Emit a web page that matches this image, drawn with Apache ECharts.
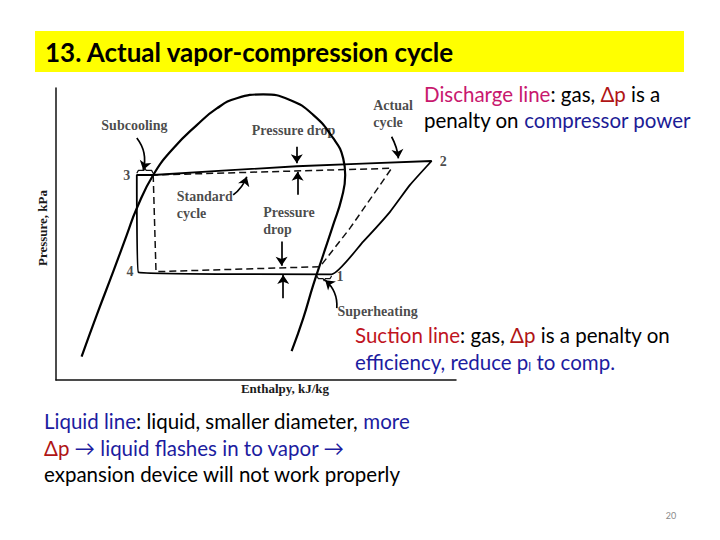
<!DOCTYPE html>
<html>
<head>
<meta charset="utf-8">
<script src="https://cdn.jsdelivr.net/npm/echarts@6/dist/echarts.min.js"></script>
<style>
    html, body { margin: 0; padding: 0; background: #ffffff; }
    #chart_main { width: 720px; height: 540px; }
</style>
</head>
<body>
<div id="chart_main"></div>
<script>
// enthalpy (x) / pressure (y), arbitrary units
var domeCurve = [
    [6.4, 8.0], [10.2, 22.3], [14.3, 37.1], [17.7, 49.7], [20.2, 58.8], [24.3, 70.2],
    [29.3, 79.3], [35.2, 87.3], [40.2, 93.0], [45.2, 96.5], [51.8, 97.8], [58.5, 95.9],
    [64.3, 90.8], [69.3, 82.8], [71.8, 75.9], [72.3, 70.2], [71.4, 62.2], [69.3, 53.1],
    [66.8, 42.8], [64.3, 32.5], [61.8, 21.1], [58.9, 9.9]
];
var actualCycle = [
    [24.3, 70.2], [20.2, 70.2], [20.6, 36.9], [68.9, 36.2], [76.8, 47.4], [83.5, 57.6],
    [88.5, 66.8], [93.9, 75.0], [60.2, 73.2], [24.3, 70.2]
];
var standardCycle = [
    [24.3, 70.2], [25.0, 37.1], [66.0, 38.8], [73.5, 52.0], [79.3, 63.4], [83.9, 72.5], [24.3, 70.2]
];
var subcoolBrace = [[20.2, 70.8], [20.6, 71.8], [22.0, 71.8], [22.25, 72.6], [22.5, 71.8], [23.9, 71.8], [24.3, 70.8]];
var superheatBrace = [[65.2, 35.6], [65.6, 34.7], [66.8, 34.7], [67.05, 33.9], [67.3, 34.7], [68.5, 34.7], [68.9, 35.6]];

// arrows: from -> to, curveness
var arrowFrom = [[20.2, 82.9], [83.9, 83.3], [60.2, 79.9], [60.4, 63.4], [44.3, 63.4], [56.4, 47.4], [56.8, 28.0], [70.2, 24.6]];
var arrowTo = [[21.8, 71.9], [85.6, 75.9], [60.2, 74.2], [60.4, 71.3], [47.7, 69.6], [56.4, 39.1], [56.8, 36.0], [67.3, 34.2]];
var arrowBend = [0.25, 0.1, 0, 0, -0.15, 0, 0, -0.25];

// labels
var centerLabels = ['Subcooling', '3', '4', '1', '2', 'Pressure drop', 'Superheating'];
var centerLabelPos = [[19.6, 87.3], [17.7, 70.2], [18.5, 37.0], [71.0, 35.4], [96.8, 75.0], [59.4, 85.3], [80.4, 23.6]];
var leftLabels = ['Actual\ncycle', 'Standard\ncycle', 'Pressure\ndrop'];
var leftLabelPos = [[79.3, 91.1], [30.2, 59.9], [51.8, 54.3]];

var xName = 'Enthalpy, kJ/kg';
var yName = 'Pressure, kPa';

var slideTitle = '13. Actual vapor-compression cycle';
var pageNo = '20';

var chart_main = echarts.init(document.getElementById('chart_main'), null, { renderer: 'svg' });

var serifFont = '"Liberation Serif", "DejaVu Serif", serif';
var slideFont = 'Lato, "Open Sans", sans-serif';

function buildArrows() {
    var list = [];
    for (var i = 0; i < arrowFrom.length; i++) {
        list.push({
            coords: [arrowFrom[i], arrowTo[i]],
            lineStyle: { curveness: arrowBend[i] }
        });
    }
    return list;
}

function buildLabels(names, pos) {
    var list = [];
    for (var i = 0; i < names.length; i++) {
        list.push({ name: names[i], value: pos[i] });
    }
    return list;
}

var diagramText = {
    color: '#1a1a1a',
    fontFamily: serifFont,
    fontSize: 14,
    fontWeight: 'bold',
    lineHeight: 17
};

// rich text piece for the slide notes
function rich(color, size, lh) {
    return { fill: color, fontFamily: slideFont, fontSize: size || 20.5, lineHeight: lh };
}

var option = {
    animation: false,
    backgroundColor: '#ffffff',
    grid: {
        left: 56,
        top: 88,
        width: 400,
        height: 292
    },
    xAxis: {
        type: 'value',
        min: 0,
        max: 100,
        name: xName,
        nameLocation: 'middle',
        nameGap: 2,
        nameTextStyle: {
            color: '#1a1a1a',
            fontFamily: serifFont,
            fontSize: 13,
            fontWeight: 'bold',
            padding: [0, 0, 0, 58]
        },
        axisLine: { lineStyle: { color: '#111', width: 1.5 } },
        axisTick: { show: false },
        axisLabel: { show: false },
        splitLine: { show: false }
    },
    yAxis: {
        type: 'value',
        min: 0,
        max: 100,
        name: yName,
        nameLocation: 'middle',
        nameGap: 7,
        nameTextStyle: {
            color: '#1a1a1a',
            fontFamily: serifFont,
            fontSize: 13,
            fontWeight: 'bold',
            padding: [0, 0, 0, 12]
        },
        axisLine: { lineStyle: { color: '#111', width: 1.5 } },
        axisTick: { show: false },
        axisLabel: { show: false },
        splitLine: { show: false }
    },
    series: [
        {
            name: 'saturation',
            type: 'line',
            smooth: true,
            symbol: 'none',
            lineStyle: { color: '#000', width: 2.2 },
            data: domeCurve
        },
        {
            name: 'standard',
            type: 'line',
            symbol: 'none',
            lineStyle: { color: '#111', width: 1.5, type: [7, 4] },
            data: standardCycle
        },
        {
            name: 'actual',
            type: 'line',
            symbol: 'none',
            smooth: 0.15,
            lineStyle: { color: '#000', width: 1.8 },
            data: actualCycle
        },
        {
            name: 'subcoolBrace',
            type: 'line',
            symbol: 'none',
            lineStyle: { color: '#111', width: 1.2 },
            data: subcoolBrace
        },
        {
            name: 'superheatBrace',
            type: 'line',
            symbol: 'none',
            lineStyle: { color: '#111', width: 1.2 },
            data: superheatBrace
        },
        {
            name: 'arrows',
            type: 'lines',
            coordinateSystem: 'cartesian2d',
            symbol: ['none', 'arrow'],
            symbolSize: [0, 9],
            lineStyle: { color: '#000', width: 1.7, opacity: 1 },
            data: buildArrows()
        },
        {
            name: 'labelsC',
            type: 'scatter',
            symbolSize: 0,
            label: Object.assign({ show: true, position: 'inside', formatter: '{b}' }, diagramText),
            data: buildLabels(centerLabels, centerLabelPos)
        },
        {
            name: 'labelsL',
            type: 'scatter',
            symbolSize: 0,
            label: Object.assign({ show: true, position: 'right', distance: 0, align: 'left', formatter: '{b}' }, diagramText),
            data: buildLabels(leftLabels, leftLabelPos)
        }
    ],
    graphic: [
        {
            type: 'rect',
            shape: { x: 35, y: 31, width: 649, height: 41 },
            style: { fill: '#ffff00' },
            z: -1
        },
        {
            type: 'text',
            x: 45,
            y: 52,
            style: {
                text: slideTitle,
                fill: '#000',
                fontFamily: slideFont,
                fontWeight: 'bold',
                fontSize: 26,
                verticalAlign: 'middle'
            }
        },
        {
            type: 'text',
            x: 424,
            y: 81,
            style: {
                text: '{m|Discharge line}{k|: gas, }{r|Δp}{k| is a}\n{k|penalty on }{b|compressor power}',
                lineHeight: 26,
                rich: {
                    m: rich('#c8186e', 20.5, 26),
                    r: rich('#b01515', 20.5, 26),
                    b: rich('#1c1c96', 20.5, 26),
                    k: rich('#000000', 20.5, 26)
                }
            }
        },
        {
            type: 'text',
            x: 355,
            y: 321,
            style: {
                text: '{r|Suction line}{k|: gas, }{d|Δp}{k| is a penalty on}\n{b|efficiency, reduce p}{s|l}{b| to comp.}',
                lineHeight: 27,
                rich: {
                    r: rich('#c0141e', 20.5, 27),
                    d: rich('#b01515', 20.5, 27),
                    b: rich('#1c1ca0', 20.5, 27),
                    s: Object.assign(rich('#1c1ca0', 12, 27), { padding: [9, 0, 0, 0] }),
                    k: rich('#000000', 20.5, 27)
                }
            }
        },
        {
            type: 'text',
            x: 44,
            y: 408,
            style: {
                text: '{b|Liquid line}{k|: liquid, smaller diameter, }{b|more}\n{d|Δp}{b| → liquid flashes in to vapor →}\n{k|expansion device will not work properly}',
                lineHeight: 26.5,
                rich: {
                    b: rich('#1c1ca0', 20.5, 26.5),
                    d: rich('#b01515', 20.5, 26.5),
                    k: rich('#000000', 20.5, 26.5)
                }
            }
        },
        {
            type: 'text',
            x: 671,
            y: 515,
            style: {
                text: pageNo,
                fill: '#8a8a8a',
                fontFamily: slideFont,
                fontSize: 9,
                align: 'center',
                verticalAlign: 'middle'
            }
        }
    ]
};

chart_main.setOption(option);
</script>
</body>
</html>
